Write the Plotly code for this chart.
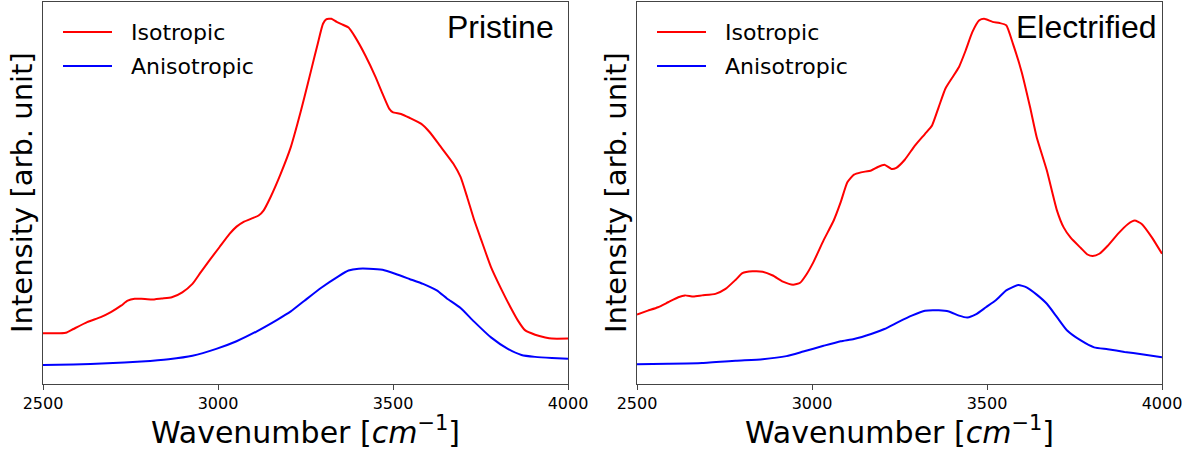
import plotly.graph_objects as go

# ---------------- data ----------------
# Pristine, isotropic
pri_iso_wn = [2500, 2548, 2568, 2587, 2626, 2665, 2694, 2723, 2742, 2762, 2781, 2810, 2839,
              2868, 2898, 2927, 2951, 2975, 3004, 3033, 3053, 3072, 3101, 3116, 3130, 3150,
              3179, 3208, 3227, 3247, 3266, 3285, 3300, 3310, 3324, 3339, 3353, 3373, 3392,
              3421, 3450, 3470, 3489, 3499, 3523, 3547, 3581, 3605, 3634, 3673, 3693, 3712,
              3731, 3751, 3780, 3809, 3838, 3857, 3877, 3906, 3935, 3954, 4000]
pri_iso = [13.3, 13.3, 13.5, 14.4, 16.2, 17.5, 18.8, 20.5, 21.8, 22.3, 22.3, 22.1, 22.4,
           22.7, 24.0, 26.2, 29.3, 32.3, 35.8, 39.3, 41.2, 42.4, 43.5, 44.1, 45.4, 48.9,
           55.0, 62.0, 68.1, 75.1, 82.1, 89.1, 94.3, 95.5, 95.6, 94.8, 94.2, 93.3, 90.8,
           86.0, 80.4, 76.0, 72.1, 71.2, 70.7, 69.7, 68.1, 65.9, 62.4, 57.6, 54.2, 48.9,
           43.2, 38.0, 30.6, 24.9, 19.7, 16.6, 14.1, 12.9, 12.2, 11.9, 11.9]

# Pristine, anisotropic
pri_ani_wn = [2500, 2587, 2684, 2781, 2859, 2927, 2995, 3053, 3111, 3169, 3208, 3247, 3295,
              3344, 3373, 3402, 3431, 3470, 3508, 3547, 3586, 3625, 3654, 3693, 3731, 3780,
              3828, 3867, 3906, 3954, 4000]
pri_ani = [5.0, 5.1, 5.4, 5.9, 6.5, 7.4, 9.2, 11.2, 13.8, 16.8, 19.0, 21.8, 25.2,
           28.2, 29.7, 30.2, 30.2, 29.9, 28.8, 27.5, 26.2, 24.5, 22.4, 19.9, 16.4, 12.2,
           9.2, 7.6, 7.1, 6.8, 6.6]

# Electrified, isotropic
ele_iso_wn = [2500, 2531, 2560, 2589, 2618, 2637, 2661, 2686, 2724, 2753, 2782, 2801, 2830,
              2859, 2888, 2917, 2946, 2966, 2985, 3004, 3033, 3062, 3082, 3101, 3120, 3140,
              3169, 3188, 3207, 3227, 3241, 3265, 3294, 3323, 3343, 3362, 3381, 3400, 3420,
              3439, 3458, 3478, 3492, 3516, 3536, 3555, 3574, 3599, 3623, 3642, 3671, 3700,
              3719, 3739, 3768, 3787, 3802, 3821, 3845, 3874, 3903, 3922, 3942, 3971, 4000]
ele_iso = [18.2, 19.2, 20.1, 21.4, 22.7, 23.2, 22.9, 23.2, 23.6, 24.9, 27.3, 29.0, 29.5,
           29.4, 28.4, 26.8, 26.0, 26.5, 28.8, 31.9, 37.6, 42.8, 47.6, 52.8, 54.8, 55.4,
           55.9, 56.8, 57.4, 56.3, 56.6, 58.7, 62.4, 65.5, 67.7, 72.5, 77.3, 80.1, 83.0,
           87.3, 92.1, 95.2, 95.6, 94.8, 94.5, 93.9, 89.1, 81.7, 72.5, 64.6, 55.9, 45.4,
           41.0, 38.3, 35.6, 33.9, 33.5, 34.1, 36.2, 39.3, 41.9, 42.8, 41.9, 38.4, 34.1]

# Electrified, anisotropic
ele_ani_wn = [2500, 2589, 2686, 2782, 2859, 2927, 2975, 3033, 3082, 3120, 3169, 3207, 3246,
              3285, 3323, 3362, 3391, 3420, 3444, 3468, 3497, 3526, 3555, 3589, 3613, 3642,
              3671, 3700, 3729, 3768, 3806, 3845, 3893, 3942, 4000]
ele_ani = [5.2, 5.3, 5.5, 6.1, 6.5, 7.3, 8.5, 10.0, 11.2, 11.8, 13.1, 14.4, 16.2,
           17.9, 19.2, 19.3, 19.0, 17.9, 17.4, 18.2, 20.1, 22.0, 24.5, 25.9, 25.3, 23.4,
           21.0, 17.5, 14.0, 11.4, 9.6, 9.1, 8.4, 7.8, 7.0]

x_ticks = [2500, 3000, 3500, 4000]
x_tick_labels = ["2500", "3000", "3500", "4000"]
series_names = ["Isotropic", "Anisotropic"]
panel_titles = ["Pristine", "Electrified"]
x_title = "Wavenumber [<i>cm</i><sup>−1</sup>]"
y_title = "Intensity [arb. unit]"

# ---------------- figure ----------------
W, H = 1188, 450
RED, BLUE = "#ff0000", "#0000ff"
FONT = "DejaVu Sans"

fig = go.Figure()
line_kw = dict(width=2, shape="spline", smoothing=0.5)
fig.add_trace(go.Scatter(x=pri_iso_wn, y=pri_iso, mode="lines", name=series_names[0],
                         line=dict(color=RED, **line_kw), xaxis="x", yaxis="y", showlegend=False))
fig.add_trace(go.Scatter(x=pri_ani_wn, y=pri_ani, mode="lines", name=series_names[1],
                         line=dict(color=BLUE, **line_kw), xaxis="x", yaxis="y", showlegend=False))
fig.add_trace(go.Scatter(x=ele_iso_wn, y=ele_iso, mode="lines", name=series_names[0],
                         line=dict(color=RED, **line_kw), xaxis="x2", yaxis="y2", showlegend=False))
fig.add_trace(go.Scatter(x=ele_ani_wn, y=ele_ani, mode="lines", name=series_names[1],
                         line=dict(color=BLUE, **line_kw), xaxis="x2", yaxis="y2", showlegend=False))

panels = [(43, 568), (637, 1162)]
top_px, bot_px = 2, 384
y_dom = [1 - bot_px / H, 1 - top_px / H]

def xaxis_cfg(x0, x1, anchor):
    return dict(domain=[x0 / W, x1 / W], range=[2500, 4000], tickvals=x_ticks,
                ticktext=x_tick_labels, ticks="outside", ticklen=5, tickwidth=1,
                tickcolor="#444", showline=True, mirror=True, linecolor="#444", linewidth=1,
                showgrid=False, zeroline=False, anchor=anchor, automargin=False,
                tickfont=dict(family=FONT, size=16, color="black"))

def yaxis_cfg(anchor):
    return dict(domain=y_dom, range=[0, 100], showticklabels=False, ticks="",
                showline=True, mirror=True, linecolor="#444", linewidth=1,
                showgrid=False, zeroline=False, anchor=anchor, automargin=False)

annotations = []
shapes = []
for i, (x0, x1) in enumerate(panels):
    # panel title
    annotations.append(dict(text=panel_titles[i], xref="paper", yref="paper",
                            x=(x1 - (12 if i == 0 else 3)) / W, y=1 - 27 / H,
                            xanchor="right", yanchor="middle", showarrow=False,
                            font=dict(family="Liberation Sans", size=32, color="black")))
    # x title
    annotations.append(dict(text=x_title, xref="paper", yref="paper",
                            x=(x0 + x1) / 2 / W, y=1 - 430 / H, xanchor="center",
                            yanchor="middle", showarrow=False,
                            font=dict(family=FONT, size=30, color="black")))
    # y title
    annotations.append(dict(text=y_title, xref="paper", yref="paper",
                            x=(x0 - 21) / W, y=(y_dom[0] + y_dom[1]) / 2, xanchor="center",
                            yanchor="middle", textangle=-90, showarrow=False,
                            font=dict(family=FONT, size=29, color="black")))
    # legend
    for j, (name, col) in enumerate(zip(series_names, [RED, BLUE])):
        yy = 1 - (32 + 34 * j) / H
        shapes.append(dict(type="line", xref="paper", yref="paper",
                           x0=(x0 + 20) / W, x1=(x0 + 69) / W, y0=yy, y1=yy,
                           line=dict(color=col, width=2)))
        annotations.append(dict(text=name, xref="paper", yref="paper",
                                x=(x0 + 86) / W, y=yy, xanchor="left", yanchor="middle",
                                showarrow=False,
                                font=dict(family=FONT, size=22, color="black")))

fig.update_layout(
    width=W, height=H, autosize=False,
    margin=dict(l=0, r=0, t=0, b=0, pad=0, autoexpand=False),
    paper_bgcolor="white", plot_bgcolor="white",
    xaxis=xaxis_cfg(*panels[0], "y"), yaxis=yaxis_cfg("x"),
    xaxis2=xaxis_cfg(*panels[1], "y2"), yaxis2=yaxis_cfg("x2"),
    annotations=annotations, shapes=shapes, showlegend=False,
)

fig.write_html("out.html")
